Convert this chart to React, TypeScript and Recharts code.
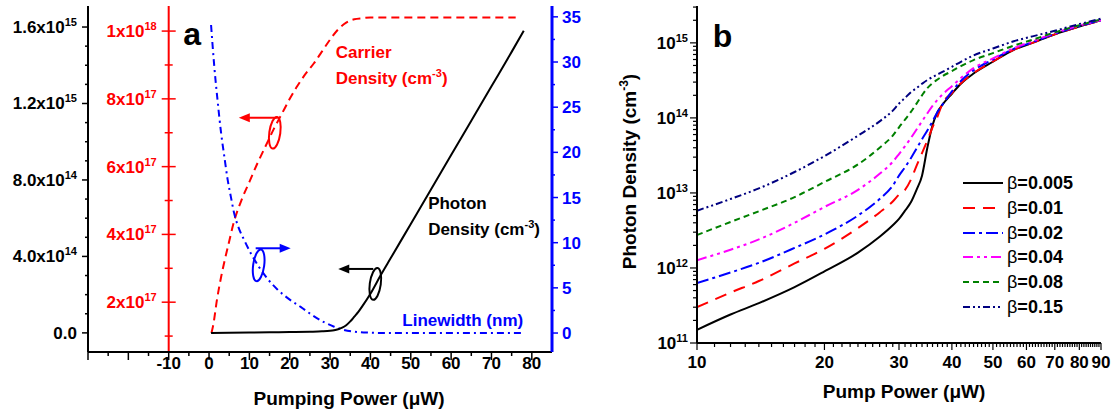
import React from "react";
import {
  LineChart,
  Line,
  XAxis,
  YAxis,
  ReferenceLine,
  ReferenceDot,
  Legend,
} from "recharts";

const FONT = '"Liberation Sans", Arial, Helvetica, sans-serif';
const RED = "#ff0000";
const BLUE = "#0000ff";

// ---------- panel a ----------
const photonPower = [0.5, 5, 10, 15, 20, 25, 28, 30, 31, 32, 33, 34, 35, 36, 37, 38, 40, 42.5, 45, 50, 55, 60, 65, 70, 75, 78];
const photonDensity = [0, 1e12, 2e12, 3e12, 4e12, 6e12, 8e12, 1.1e13, 1.4e13, 1.9e13, 2.7e13, 4e13, 6e13, 8.5e13, 1.1e14, 1.4e14, 2.05e14, 3e14, 3.9e14, 5.7e14, 7.5e14, 9.3e14, 1.11e15, 1.29e15, 1.47e15, 1.58e15];

const carrierPower = [0.6, 1, 2, 3, 4, 5, 6, 8, 10, 12, 14, 16, 18, 20, 22, 24, 26, 28, 30, 32, 34, 36, 38, 40, 45, 55, 65, 76];
const carrierDensity = [1.09e17, 1.3e17, 2.1e17, 2.75e17, 3.3e17, 3.8e17, 4.3e17, 5.0e17, 5.55e17, 6.1e17, 6.6e17, 7.1e17, 7.55e17, 8.0e17, 8.4e17, 8.75e17, 9.05e17, 9.4e17, 9.75e17, 1.005e18, 1.025e18, 1.035e18, 1.038e18, 1.04e18, 1.04e18, 1.04e18, 1.04e18, 1.04e18];

const linewidthPower = [0.5, 1.3, 2.1, 3.0, 3.8, 4.6, 5.4, 6.2, 7.3, 8.7, 10.5, 12.4, 14.5, 17, 20, 22.7, 25.5, 28.5, 31, 33.4, 36, 39.2, 45, 55, 65, 78];
const linewidthNm = [34.1, 29.5, 25.8, 22.1, 19.5, 17.0, 15.1, 13.3, 11.7, 10.3, 8.7, 7.3, 6.0, 4.8, 3.7, 2.9, 2.0, 1.2, 0.7, 0.35, 0.15, 0.05, 0, 0, 0, 0];

const aXTicks = [-30, -25, -20, -15, -10, -5, 0, 5, 10, 15, 20, 25, 30, 35, 40, 45, 50, 55, 60, 65, 70, 75, 80];
const aXLabels = [-10, 0, 10, 20, 30, 40, 50, 60, 70, 80];

const photonTicks = [0, 1e14, 2e14, 3e14, 4e14, 5e14, 6e14, 7e14, 8e14, 9e14, 1e15, 1.1e15, 1.2e15, 1.3e15, 1.4e15, 1.5e15, 1.6e15];
const photonMajor = [0, 4e14, 8e14, 1.2e15, 1.6e15];
const photonMajorText = ["0.0", "4.0x10", "8.0x10", "1.2x10", "1.6x10"];
const photonMajorExp = ["", "14", "14", "15", "15"];

const carrierMinor = [1e17, 3e17, 5e17, 7e17, 9e17];
const carrierMajor = [2e17, 4e17, 6e17, 8e17, 1e18];
const carrierMajorText = ["2x10", "4x10", "6x10", "8x10", "1x10"];
const carrierMajorExp = ["17", "17", "17", "17", "18"];

const linewidthTicks = [0, 2.5, 5, 7.5, 10, 12.5, 15, 17.5, 20, 22.5, 25, 27.5, 30, 32.5, 35];
const linewidthMajor = [0, 5, 10, 15, 20, 25, 30, 35];

// ---------- panel b ----------
const pumpPower = [10, 12, 14, 17, 20, 24, 27, 29, 30, 31, 32, 33, 34, 35, 36, 37, 38, 40, 42, 45, 50, 56, 62, 70, 80, 90];
const beta005 = [1.5e11, 2.4e11, 3.4e11, 5.55e11, 9e11, 1.6e12, 2.6e12, 3.7e12, 4.5e12, 5.8e12, 7.5e12, 1.1e13, 1.7e13, 4.0e13, 8.0e13, 1.2e14, 1.5e14, 2.1e14, 2.85e14, 3.9e14, 5.6e14, 8.1e14, 1.0e15, 1.3e15, 1.65e15, 2.0e15];
const beta01 = [3.0e11, 4.7e11, 6.7e11, 1.15e12, 1.8e12, 3.4e12, 5.5e12, 7.7e12, 9.5e12, 1.1e13, 1.5e13, 2.3e13, 3.4e13, 5.0e13, 7.5e13, 1.05e14, 1.55e14, 2.15e14, 2.9e14, 3.95e14, 5.65e14, 8.1e14, 1.0e15, 1.3e15, 1.65e15, 2.0e15];
const beta02 = [6.3e11, 8.7e11, 1.17e12, 1.85e12, 2.8e12, 5e12, 8.3e12, 1.25e13, 1.7e13, 2.2e13, 2.9e13, 3.9e13, 5.2e13, 6.8e13, 9e13, 1.2e14, 1.5e14, 2.25e14, 3.1e14, 4.3e14, 6.0e14, 8.3e14, 1.02e15, 1.32e15, 1.67e15, 2.0e15];
const beta04 = [1.27e12, 1.75e12, 2.4e12, 4.0e12, 6.5e12, 1.1e13, 1.8e13, 2.6e13, 3.3e13, 4.2e13, 5.4e13, 7.0e13, 9e13, 1.15e14, 1.45e14, 1.75e14, 2.05e14, 2.65e14, 3.4e14, 4.6e14, 6.2e14, 8.5e14, 1.05e15, 1.35e15, 1.7e15, 2.0e15];
const beta08 = [2.75e12, 4.1e12, 5.7e12, 8.8e12, 1.4e13, 2.4e13, 4.0e13, 5.8e13, 7.5e13, 9.5e13, 1.2e14, 1.55e14, 2.0e14, 2.5e14, 2.9e14, 3.25e14, 3.6e14, 4.2e14, 4.9e14, 5.9e14, 7.3e14, 9.2e14, 1.1e15, 1.38e15, 1.72e15, 2.05e15];
const beta15 = [5.8e12, 8.3e12, 1.15e13, 1.9e13, 3.1e13, 5.8e13, 9e13, 1.25e14, 1.55e14, 1.85e14, 2.2e14, 2.5e14, 2.85e14, 3.2e14, 3.5e14, 3.8e14, 4.1e14, 4.8e14, 5.6e14, 6.8e14, 8.4e14, 1.05e15, 1.22e15, 1.45e15, 1.78e15, 2.1e15];

const betaKeys = ["b005", "b01", "b02", "b04", "b08", "b15"];
const betaNames = ["0.005", "0.01", "0.02", "0.04", "0.08", "0.15"];
const betaSeries = [beta005, beta01, beta02, beta04, beta08, beta15];
const betaColors = ["#000000", "#ff0000", "#0000ff", "#ff00ff", "#008000", "#000080"];
const betaDash = ["", "12 8", "12 4 3 4", "10 4 3 4 3 4", "6 4", "7 3 2 3 2 3"];

const bXLabels = [10, 20, 30, 40, 50, 60, 70, 80, 90];
const bYMajor = [1e11, 1e12, 1e13, 1e14, 1e15];
const bYExp = ["11", "12", "13", "14", "15"];

const bXTicks = Array.from({ length: 81 }, (_, i) => 10 + i);
const bYTicks: number[] = [];
[11, 12, 13, 14, 15].forEach((e) => {
  for (let m = 1; m <= 9; m++) {
    const v = m * Math.pow(10, e);
    if (v <= 3.1e15) bYTicks.push(v);
  }
});

const photonData = photonPower.map((p, i) => ({ p, v: photonDensity[i] }));
const carrierData = carrierPower.map((p, i) => ({ p, v: carrierDensity[i] }));
const linewidthData = linewidthPower.map((p, i) => ({ p, v: linewidthNm[i] }));
const pumpRows = pumpPower.map((p, i) => {
  const row: any = { p };
  betaKeys.forEach((k, j) => (row[k] = betaSeries[j][i]));
  return row;
});

function Sci({ x, y, base, exp, anchor, fill, size = 17 }: any) {
  return (
    <text x={x} y={y} textAnchor={anchor} fill={fill} fontFamily={FONT} fontWeight="bold" fontSize={size}>
      {base}
      {exp ? (
        <tspan dy={-7} fontSize={size * 0.65}>
          {exp}
        </tspan>
      ) : null}
    </text>
  );
}

const PhotonTick = (props: any) => {
  const { x, y, payload } = props;
  const i = photonMajor.indexOf(payload.value);
  return (
    <g>
      <line x1={x} x2={x - (i >= 0 ? 6 : 3)} y1={y} y2={y} stroke="#000" strokeWidth={1.5} />
      {i >= 0 && <Sci x={x - 11} y={y + 6} base={photonMajorText[i]} exp={photonMajorExp[i]} anchor="end" fill="#000" />}
    </g>
  );
};

const LinewidthTick = (props: any) => {
  const { x, y, payload } = props;
  const major = linewidthMajor.includes(payload.value);
  return (
    <g>
      <line x1={x} x2={x + (major ? 6 : 3)} y1={y} y2={y} stroke={BLUE} strokeWidth={1.5} />
      {major && (
        <text x={x + 10} y={y + 6} fill={BLUE} fontFamily={FONT} fontWeight="bold" fontSize={17}>
          {payload.value}
        </text>
      )}
    </g>
  );
};

const AXTick = (props: any) => {
  const { x, y, payload } = props;
  const v = payload.value;
  const major = v % 10 === 0;
  return (
    <g>
      <line x1={x} x2={x} y1={y} y2={y + (major ? 8 : 4)} stroke="#000" strokeWidth={1.5} />
      {aXLabels.includes(v) && (
        <text x={x} y={y + 17} textAnchor="middle" fill="#000" fontFamily={FONT} fontWeight="bold" fontSize={17}>
          {v}
        </text>
      )}
    </g>
  );
};

const BXTick = (props: any) => {
  const { x, y, payload } = props;
  const v = payload.value;
  const major = bXLabels.includes(v);
  return (
    <g>
      <line x1={x} x2={x} y1={y} y2={y + (major ? 7 : 4)} stroke="#000" strokeWidth={1.2} />
      {major && (
        <text x={x} y={y + 25} textAnchor="middle" fill="#000" fontFamily={FONT} fontWeight="bold" fontSize={17}>
          {v}
        </text>
      )}
    </g>
  );
};

const BYTick = (props: any) => {
  const { x, y, payload } = props;
  const i = bYMajor.indexOf(payload.value);
  return (
    <g>
      <line x1={x} x2={x - (i >= 0 ? 7 : 4)} y1={y} y2={y} stroke="#000" strokeWidth={1.2} />
      {i >= 0 && <Sci x={x - 9} y={y + 6} base="10" exp={bYExp[i]} anchor="end" fill="#000" />}
    </g>
  );
};

const AxisTitle = (props: any) => {
  const { viewBox, dx = 0, dy = 0, children } = props;
  return (
    <text
      x={viewBox.x + viewBox.width / 2 + dx}
      y={viewBox.y + dy}
      textAnchor="middle"
      fontFamily={FONT}
      fontWeight="bold"
      fontSize={19}
      fill="#000"
    >
      {children}
    </text>
  );
};

const YTitleB = (props: any) => {
  const { viewBox } = props;
  const x = viewBox.x + 76;
  const y = viewBox.y + viewBox.height / 2 - 3;
  return (
    <text x={x} y={y} transform={`rotate(-90, ${x}, ${y})`} textAnchor="middle" fontFamily={FONT} fontWeight="bold" fontSize={19} fill="#000">
      Photon Density (cm<tspan dy={-8} fontSize={12}>-3</tspan>
      <tspan dy={8}>)</tspan>
    </text>
  );
};

const arrowHead = (tipX: number, y: number, dir: number, color: string) => (
  <polygon points={`${tipX},${y} ${tipX - dir * 11},${y - 4.5} ${tipX - dir * 11},${y + 4.5}`} fill={color} />
);

const Marker = ({ cx, cy, color, dir, from, to, lift }: any) => (
  <g>
    <ellipse cx={cx} cy={cy} rx={5.5} ry={16} fill="none" stroke={color} strokeWidth={2} transform={`rotate(8, ${cx}, ${cy})`} />
    <line x1={cx + from} x2={cx + to - dir * 8} y1={cy - lift} y2={cy - lift} stroke={color} strokeWidth={2} />
    {arrowHead(cx + to, cy - lift, dir, color)}
  </g>
);

const TextAt = ({ cx, cy, lines, color, size = 17 }: any) => (
  <text x={cx} y={cy} fill={color} fontFamily={FONT} fontWeight="bold" fontSize={size}>
    {lines.map((l: any, i: number) => (
      <tspan key={i} x={cx} dy={i === 0 ? 0 : 26}>
        {l.text}
        {l.sup ? (
          <tspan dy={-7} fontSize={11}>
            {l.sup}
          </tspan>
        ) : null}
        {l.sup ? <tspan dy={7}>)</tspan> : null}
      </tspan>
    ))}
  </text>
);

const BetaLegend = (props: any) => {
  const { payload } = props;
  return (
    <div style={{ fontFamily: FONT }}>
      {(payload || []).map((entry: any) => {
        const j = betaKeys.indexOf(entry.dataKey);
        return (
          <div key={entry.dataKey} style={{ display: "flex", alignItems: "center", height: 24.7 }}>
            <svg width={44} height={6} style={{ display: "block" }}>
              <line x1={0} x2={40} y1={3} y2={3} stroke={betaColors[j]} strokeWidth={2} strokeDasharray={betaDash[j]} />
            </svg>
            <span style={{ fontSize: 18, fontWeight: "bold", color: "#000", lineHeight: "20px" }}>
              <span style={{ fontWeight: "normal" }}>β</span>={betaNames[j]}
            </span>
          </div>
        );
      })}
    </div>
  );
};

function PanelA() {
  return (
    <LineChart width={600} height={415} margin={{ top: 6, right: 0, bottom: 0, left: 0 }}>
      <XAxis
        dataKey="p"
        type="number"
        domain={[-30, 85]}
        allowDataOverflow
        ticks={aXTicks}
        interval={0}
        tickSize={0}
        tickMargin={0}
        tickLine={false}
        tick={AXTick}
        height={63}
        axisLine={{ stroke: "#000", strokeWidth: 2 }}
        label={
          <AxisTitle dx={29} dy={53}>
            Pumping Power (μW)
          </AxisTitle>
        }
      />
      <XAxis xAxisId="top" orientation="top" type="number" domain={[-30, 85]} tick={false} tickLine={false} height={0} axisLine={{ stroke: "#000", strokeWidth: 2 }} />
      <YAxis
        yAxisId="p"
        type="number"
        domain={[-1e14, 1.71e15]}
        allowDataOverflow
        ticks={photonTicks}
        interval={0}
        tickSize={0}
        tickMargin={0}
        tickLine={false}
        tick={PhotonTick}
        width={88}
        axisLine={{ stroke: "#000", strokeWidth: 2 }}
      />
      <YAxis
        yAxisId="w"
        orientation="right"
        type="number"
        domain={[-2.1, 36.2]}
        allowDataOverflow
        ticks={linewidthTicks}
        interval={0}
        tickSize={0}
        tickMargin={0}
        tickLine={false}
        tick={LinewidthTick}
        width={48}
        axisLine={{ stroke: BLUE, strokeWidth: 3 }}
      />
      <YAxis yAxisId="c" hide width={0} type="number" domain={[5.3e16, 1.074e18]} allowDataOverflow />

      <ReferenceLine x={-10} yAxisId="c" stroke={RED} strokeWidth={2} />
      {carrierMinor.map((v) => (
        <ReferenceDot
          key={"m" + v}
          x={-10}
          y={v}
          yAxisId="c"
          shape={(p: any) => <line x1={p.cx - 4} x2={p.cx + 4} y1={p.cy} y2={p.cy} stroke={RED} strokeWidth={1.5} />}
        />
      ))}
      {carrierMajor.map((v, i) => (
        <ReferenceDot
          key={"M" + v}
          x={-10}
          y={v}
          yAxisId="c"
          shape={(p: any) => (
            <g>
              <line x1={p.cx - 7} x2={p.cx + 7} y1={p.cy} y2={p.cy} stroke={RED} strokeWidth={1.5} />
              <Sci x={p.cx - 12} y={p.cy + 6} base={carrierMajorText[i]} exp={carrierMajorExp[i]} anchor="end" fill={RED} />
            </g>
          )}
        />
      ))}

      <Line data={carrierData} dataKey="v" yAxisId="c" type="monotone" stroke={RED} strokeWidth={2} strokeDasharray="8 5" dot={false} isAnimationActive={false} />
      <Line data={linewidthData} dataKey="v" yAxisId="w" type="monotone" stroke={BLUE} strokeWidth={2} strokeDasharray="7 4 2 4" dot={false} isAnimationActive={false} />
      <Line data={photonData} dataKey="v" yAxisId="p" type="monotone" stroke="#000" strokeWidth={2} dot={false} isAnimationActive={false} />

      <ReferenceDot x={-6.4} y={1.506e15} yAxisId="p" shape={(p: any) => <text x={p.cx} y={p.cy} fontFamily={FONT} fontWeight="bold" fontSize={32} fill="#000">a</text>} />
      <ReferenceDot x={31.4} y={1.438e15} yAxisId="p" shape={(p: any) => <TextAt cx={p.cx} cy={p.cy} color={RED} lines={[{ text: "Carrier" }, { text: "Density (cm", sup: "-3" }]} />} />
      <ReferenceDot x={54.3} y={0.648e15} yAxisId="p" shape={(p: any) => <TextAt cx={p.cx} cy={p.cy} color="#000" lines={[{ text: "Photon" }, { text: "Density (cm", sup: "-3" }]} />} />
      <ReferenceDot x={47.9} y={0.0366e15} yAxisId="p" shape={(p: any) => <TextAt cx={p.cx} cy={p.cy} color={BLUE} lines={[{ text: "Linewidth (nm)" }]} />} />

      <ReferenceDot x={16.3} y={7.0e17} yAxisId="c" shape={(p: any) => <Marker cx={p.cx} cy={p.cy} color={RED} dir={-1} from={3} to={-36} lift={15} />} />
      <ReferenceDot x={12.3} y={7.5} yAxisId="w" shape={(p: any) => <Marker cx={p.cx} cy={p.cy} color={BLUE} dir={1} from={-3} to={32} lift={17} />} />
      <ReferenceDot x={41.2} y={0.256e15} yAxisId="p" shape={(p: any) => <Marker cx={p.cx} cy={p.cy} color="#000" dir={-1} from={-2} to={-37} lift={15} />} />
    </LineChart>
  );
}

function PanelB() {
  return (
    <LineChart width={555} height={415} data={pumpRows} margin={{ top: 6, right: 14, bottom: 0, left: 0 }}>
      <XAxis
        dataKey="p"
        type="number"
        scale="log"
        domain={[10, 90]}
        allowDataOverflow
        ticks={bXTicks}
        interval={0}
        tickSize={0}
        tickMargin={0}
        tickLine={false}
        tick={BXTick}
        height={72}
        axisLine={{ stroke: "#000", strokeWidth: 2 }}
        label={
          <AxisTitle dx={5} dy={55}>
            Pump Power (μW)
          </AxisTitle>
        }
      />
      <XAxis xAxisId="top" orientation="top" type="number" scale="log" domain={[10, 90]} tick={false} tickLine={false} height={0} axisLine={{ stroke: "#000", strokeWidth: 2 }} />
      <YAxis
        yAxisId="l"
        type="number"
        scale="log"
        domain={[1e11, 3.1e15]}
        allowDataOverflow
        ticks={bYTicks}
        interval={0}
        tickSize={0}
        tickMargin={0}
        tickLine={false}
        tick={BYTick}
        width={137}
        axisLine={{ stroke: "#000", strokeWidth: 2 }}
        label={<YTitleB />}
      />
      <YAxis yAxisId="r" orientation="right" type="number" domain={[0, 1]} tick={false} tickLine={false} width={0} axisLine={{ stroke: "#000", strokeWidth: 2 }} />
      {betaKeys.map((k, j) => (
        <Line
          key={k}
          dataKey={k}
          name={"β=" + betaNames[j]}
          yAxisId="l"
          type="monotone"
          stroke={betaColors[j]}
          strokeWidth={2}
          strokeDasharray={betaDash[j] || undefined}
          dot={false}
          isAnimationActive={false}
        />
      ))}
      <ReferenceDot x={10.9} y={8.85e14} yAxisId="l" shape={(p: any) => <text x={p.cx} y={p.cy} fontFamily={FONT} fontWeight="bold" fontSize={32} fill="#000">b</text>} />
      <Legend
        layout="vertical"
        align="center"
        verticalAlign="middle"
        content={BetaLegend}
        wrapperStyle={{ left: 403, top: 171, width: 150, height: 150 }}
      />
    </LineChart>
  );
}

export default function App() {
  return (
    <div style={{ position: "absolute", left: 0, top: 0, width: 1115, height: 415, background: "#fff", overflow: "hidden" }}>
      <div style={{ position: "absolute", left: 0, top: 0 }}>
        <PanelA />
      </div>
      <div style={{ position: "absolute", left: 560, top: 0 }}>
        <PanelB />
      </div>
    </div>
  );
}
